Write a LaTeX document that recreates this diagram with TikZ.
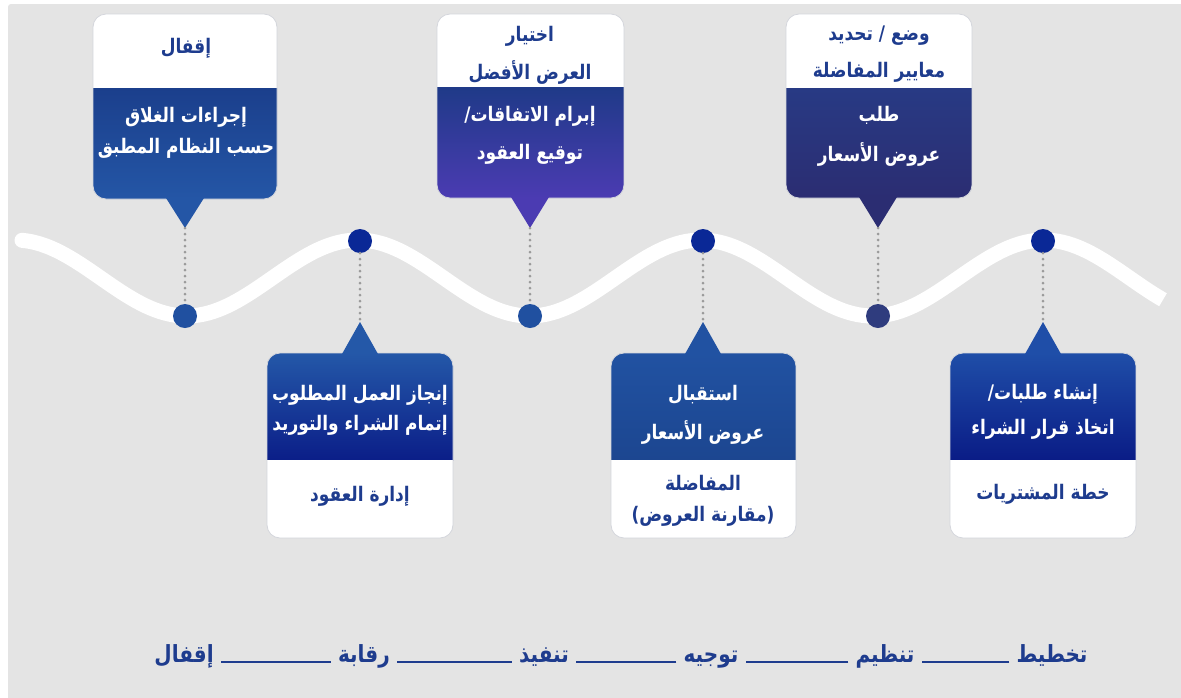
\documentclass[tikz,border=0pt]{standalone}
\usepackage{fontspec}
\usepackage{graphicx}
\newfontfamily\arabicfont[Script=Arabic]{DejaVu Sans}
\TeXXeTstate=1
\definecolor{bg}{HTML}{E4E4E4}
\definecolor{navy}{HTML}{1E3C8E}
\definecolor{cardedge}{HTML}{D4D6DC}
\definecolor{guidegray}{HTML}{9A9A9A}
\definecolor{aT}{HTML}{1B3F8C}\definecolor{aB}{HTML}{2456A6}
\definecolor{bT}{HTML}{1F3A88}\definecolor{bM}{HTML}{2A4FA2}\definecolor{bB}{HTML}{4B3BB2}
\definecolor{cT}{HTML}{283A84}\definecolor{cM}{HTML}{2E4A98}\definecolor{cB}{HTML}{2B2D72}
\definecolor{dT}{HTML}{2458A8}\definecolor{dB}{HTML}{0B1E88}
\definecolor{eT}{HTML}{2152A2}\definecolor{eB}{HTML}{1C4690}
\definecolor{fT}{HTML}{1F4EA8}\definecolor{fB}{HTML}{0A1C86}
\definecolor{dotA}{HTML}{2050A0}\definecolor{dotB}{HTML}{0A2896}\definecolor{dotC}{HTML}{2F3C7E}
\newcommand{\rl}[1]{\scalebox{1}[1.18]{\beginR #1\endR}}
\tikzset{
  wtxt/.style={font=\arabicfont\bfseries\fontsize{17}{20}\selectfont, text=white, inner sep=0pt},
  ntxt/.style={font=\arabicfont\bfseries\fontsize{17}{20}\selectfont, text=navy, inner sep=0pt},
  btxt/.style={font=\arabicfont\bfseries\fontsize{20}{22}\selectfont, text=navy, inner sep=0pt},
  blob/.style={circle, minimum size=24pt, inner sep=0pt},
  guide/.style={draw=guidegray, line width=3pt, dash pattern=on 0pt off 6pt, line cap=round},
  bline/.style={draw=navy, line width=2.4pt},
  edge/.style={draw=cardedge, line width=0.8pt, rounded corners=13pt},
}
\begin{document}
\begin{tikzpicture}[x=1pt,y=-1pt]
\useasboundingbox (0,0) rectangle (1181,697);
\fill[white] (0,0) rectangle (1181,697);
\fill[bg, rounded corners=3pt] (8,4) rectangle (1190,705);

% wave
\draw[white, line width=15pt] plot[domain=22:1163, samples=240] (\x, {278 - 38*cos(1.04956*(\x-15))});
\fill[white] (22,240.3) circle (7.5pt);

% ---------- top card 1
\begin{scope}
\clip[rounded corners=13pt] (93,14) rectangle (277,199);
\fill[white] (93,14) rectangle (277,88);
\shade[top color=aT, bottom color=aB] (93,88) rectangle (277,199);
\end{scope}
\draw[edge] (93,14) rectangle (277,199);
\fill[aB] (166,198) -- (204,198) -- (185,228) -- cycle;
\coordinate (t1) at (185,228);
\node[ntxt] (c1a) at (186,48) {\rl{إقفال}};
\node[wtxt] (c1b) at (186,117) {\rl{إجراءات الغلاق}};
\node[wtxt] (c1c) at (186,148) {\rl{حسب النظام المطبق}};

% ---------- top card 2
\begin{scope}
\clip[rounded corners=13pt] (437,14) rectangle (624,198);
\fill[white] (437,14) rectangle (624,87);
\shade[top color=bT, middle color=bM, bottom color=bB] (437,87) rectangle (624,198);
\end{scope}
\draw[edge] (437,14) rectangle (624,198);
\fill[bB] (511,197) -- (549,197) -- (530,228) -- cycle;
\coordinate (t2) at (530,228);
\node[ntxt] (c2a) at (530,36) {\rl{اختيار}};
\node[ntxt] (c2b) at (530,72) {\rl{العرض الأفضل}};
\node[wtxt] (c2c) at (530,116) {\rl{إبرام الاتفاقات/}};
\node[wtxt] (c2d) at (530,154) {\rl{توقيع العقود}};

% ---------- top card 3
\begin{scope}
\clip[rounded corners=13pt] (786,14) rectangle (972,198);
\fill[white] (786,14) rectangle (972,88);
\shade[top color=cT, middle color=cM, bottom color=cB] (786,88) rectangle (972,198);
\end{scope}
\draw[edge] (786,14) rectangle (972,198);
\fill[cB] (859,197) -- (897,197) -- (878,228) -- cycle;
\coordinate (t3) at (878,228);
\node[ntxt] (c3a) at (879,36) {\rl{وضع / تحديد}};
\node[ntxt] (c3b) at (879,72) {\rl{معايير المفاضلة}};
\node[wtxt] (c3c) at (879,115) {\rl{طلب}};
\node[wtxt] (c3d) at (879,154) {\rl{عروض الأسعار}};

% ---------- bottom card 4
\begin{scope}
\clip[rounded corners=13pt] (267,353) rectangle (453,538);
\shade[top color=dT, bottom color=dB] (267,353) rectangle (453,460);
\fill[white] (267,460) rectangle (453,538);
\end{scope}
\draw[edge] (267,353) rectangle (453,538);
\fill[dT] (342,354) -- (378,354) -- (360,322) -- cycle;
\coordinate (t4) at (360,322);
\node[wtxt] (c4a) at (360,395) {\rl{إنجاز العمل المطلوب}};
\node[wtxt] (c4b) at (360,425) {\rl{إتمام الشراء والتوريد}};
\node[ntxt] (c4c) at (360,496) {\rl{إدارة العقود}};

% ---------- bottom card 5
\begin{scope}
\clip[rounded corners=13pt] (611,353) rectangle (796,538);
\shade[top color=eT, bottom color=eB] (611,353) rectangle (796,460);
\fill[white] (611,460) rectangle (796,538);
\end{scope}
\draw[edge] (611,353) rectangle (796,538);
\fill[eT] (685,354) -- (721,354) -- (703,322) -- cycle;
\coordinate (t5) at (703,322);
\node[wtxt] (c5a) at (703,395) {\rl{استقبال}};
\node[wtxt] (c5b) at (703,432) {\rl{عروض الأسعار}};
\node[ntxt] (c5c) at (703,483) {\rl{المفاضلة}};
\node[ntxt] (c5d) at (703,516) {\rl{(مقارنة العروض)}};

% ---------- bottom card 6
\begin{scope}
\clip[rounded corners=13pt] (950,353) rectangle (1136,538);
\shade[top color=fT, bottom color=fB] (950,353) rectangle (1136,460);
\fill[white] (950,460) rectangle (1136,538);
\end{scope}
\draw[edge] (950,353) rectangle (1136,538);
\fill[fT] (1025,354) -- (1061,354) -- (1043,322) -- cycle;
\coordinate (t6) at (1043,322);
\node[wtxt] (c6a) at (1043,394) {\rl{إنشاء طلبات/}};
\node[wtxt] (c6b) at (1043,429) {\rl{اتخاذ قرار الشراء}};
\node[ntxt] (c6c) at (1043,494) {\rl{خطة المشتريات}};

% ---------- dots on the wave
\node[blob, fill=dotA] (d1) at (185,316) {};
\node[blob, fill=dotB] (d2) at (360,241) {};
\node[blob, fill=dotA] (d3) at (530,316) {};
\node[blob, fill=dotB] (d4) at (703,241) {};
\node[blob, fill=dotC] (d5) at (878,316) {};
\node[blob, fill=dotB] (d6) at (1043,241) {};

% ---------- dotted guides
\draw[guide] (t1) -- (d1);
\draw[guide] (t2) -- (d3);
\draw[guide] (t3) -- (d5);
\draw[guide] (d2) -- (t4);
\draw[guide] (d4) -- (t5);
\draw[guide] (d6) -- (t6);

% ---------- bottom sequence
\node[btxt, anchor=base] (w1) at (1052,662) {\rl{تخطيط}};
\node[btxt, anchor=base] (w2) at (885,662) {\rl{تنظيم}};
\node[btxt, anchor=base] (w3) at (711,662) {\rl{توجيه}};
\node[btxt, anchor=base] (w4) at (544,662) {\rl{تنفيذ}};
\node[btxt, anchor=base] (w5) at (364,662) {\rl{رقابة}};
\node[btxt, anchor=base] (w6) at (184,662) {\rl{إقفال}};
\draw[bline] ([xshift=-7pt]w1.base west) -- ([xshift=7pt]w2.base east);
\draw[bline] ([xshift=-7pt]w2.base west) -- ([xshift=7pt]w3.base east);
\draw[bline] ([xshift=-7pt]w3.base west) -- ([xshift=7pt]w4.base east);
\draw[bline] ([xshift=-7pt]w4.base west) -- ([xshift=7pt]w5.base east);
\draw[bline] ([xshift=-7pt]w5.base west) -- ([xshift=7pt]w6.base east);
\end{tikzpicture}
\end{document}
